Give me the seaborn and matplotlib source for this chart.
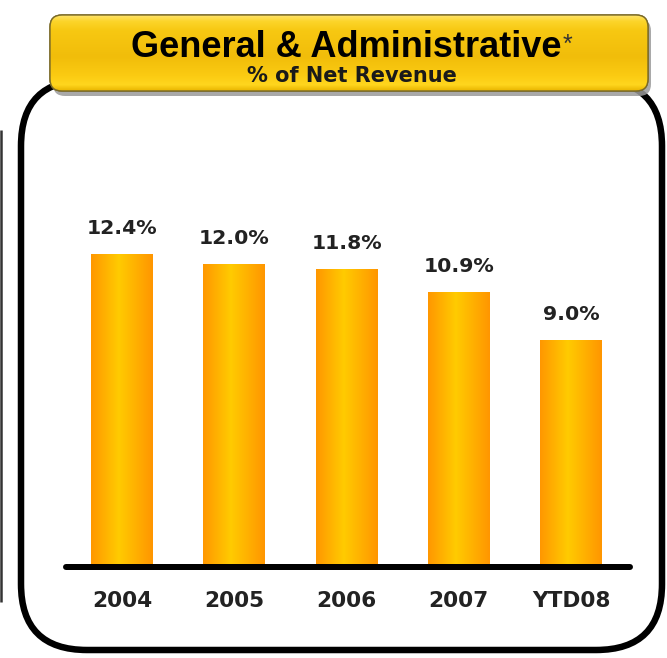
import numpy as np
import pandas as pd
import seaborn as sns
import matplotlib
matplotlib.use("Agg")
import matplotlib.pyplot as plt
from matplotlib.patches import FancyBboxPatch
from matplotlib.colors import LinearSegmentedColormap

# ---- data ----
categories = ["2004", "2005", "2006", "2007", "YTD08"]
values = [12.4, 12.0, 11.8, 10.9, 9.0]
value_labels = ["12.4%", "12.0%", "11.8%", "10.9%", "9.0%"]
title_text = "General & Administrative"
subtitle_text = "% of Net Revenue"

sns.set_theme(style="white")
plt.rcParams["font.family"] = ["DejaVu Sans"]

W, H = 667, 658
fig = plt.figure(figsize=(W / 100, H / 100), dpi=100)
fig.patch.set_facecolor("white")


def pt(p):
    return p * 72 / 100


# ---- background / decoration axes in pixel coordinates ----
bg = fig.add_axes([0, 0, 1, 1])
bg.set_xlim(0, W)
bg.set_ylim(H, 0)
bg.axis("off")

# partial border of neighbouring panel
bg.plot([1.2, 1.2], [130, 602], color="#333333", lw=pt(2.5), solid_capstyle="butt")

# main rounded panel
main_box = FancyBboxPatch((21, 80), 641, 570, boxstyle="round,pad=0,rounding_size=66",
                          fc="white", ec="black", lw=pt(6.5), zorder=1)
bg.add_patch(main_box)

# title box shadow
shadow = FancyBboxPatch((53, 19), 598, 77, boxstyle="round,pad=0,rounding_size=12",
                        fc="#9a9a9a", ec="none", alpha=0.85, zorder=2)
bg.add_patch(shadow)

# title box with vertical gradient
tbox = FancyBboxPatch((50, 15), 598, 76, boxstyle="round,pad=0,rounding_size=12",
                      fc="#F5C40A", ec="#7a6a28", lw=1.0, zorder=3)
bg.add_patch(tbox)
title_cmap = LinearSegmentedColormap.from_list(
    "tbox",
    [(0.0, "#FFE36A"), (0.08, "#FCD52A"), (0.2, "#F7C812"), (0.55, "#F1BD0A"),
     (0.8, "#FBCB12"), (0.92, "#FFD61E"), (1.0, "#E9B500")])
grad_v = np.linspace(0, 1, 200).reshape(-1, 1)
im = bg.imshow(grad_v, cmap=title_cmap, extent=(50, 648, 91, 15), origin="upper",
               aspect="auto", zorder=3.5)
im.set_clip_path(tbox)
# outline redraw on top
bg.add_patch(FancyBboxPatch((50, 15), 598, 76, boxstyle="round,pad=0,rounding_size=12",
                            fc="none", ec="#7a6a28", lw=1.0, zorder=4))

t = bg.text(346, 57, title_text, ha="center", va="baseline", fontsize=26,
            fontweight="bold", family=["Liberation Sans", "DejaVu Sans"],
            color="black", zorder=5)
bg.annotate("*", xy=(1, 1), xycoords=t, xytext=(1, -2), textcoords="offset points",
            ha="left", va="top", fontsize=18, color="#333333",
            family=["Liberation Sans", "DejaVu Sans"], zorder=5)
bg.text(352, 82, subtitle_text, ha="center", va="baseline", fontsize=15,
        fontweight="bold", color="#1a1a1a", zorder=5)

bg.set_xlim(0, W)
bg.set_ylim(H, 0)

# ---- bar chart axes ----
base_px = 567
top_px = 150
ax = fig.add_axes([63 / W, (H - base_px) / H, 570 / W, (base_px - top_px) / H])
ax.set_facecolor("none")
df = pd.DataFrame({"year": categories, "pct": values})
sns.barplot(data=df, x="year", y="pct", ax=ax, color="#FFB000", width=0.552,
            saturation=1, errorbar=None)

px_per_unit = 25.24
ax.set_xlim(-0.526, -0.526 + 570 / 112.25)
ax.set_ylim(0, (base_px - top_px) / px_per_unit)

bar_cmap = LinearSegmentedColormap.from_list(
    "bar", [(0.0, "#FF9700"), (0.45, "#FFCB00"), (1.0, "#FF9600")])
grad_h = np.linspace(0, 1, 200).reshape(1, -1)
for p in ax.patches:
    x0, y0 = p.get_x(), p.get_y()
    w, h = p.get_width(), p.get_height()
    p.set_edgecolor("none")
    bim = ax.imshow(grad_h, cmap=bar_cmap, extent=(x0, x0 + w, y0, y0 + h),
                    origin="lower", aspect="auto", zorder=2)
    bim.set_clip_path(p)

ax.set_xlim(-0.526, -0.526 + 570 / 112.25)
ax.set_ylim(0, (base_px - top_px) / px_per_unit)

ax.bar_label(ax.containers[0], labels=value_labels, padding=pt(16), fontsize=14.7,
             fontweight="bold", color="#222222")

ax.axhline(0, xmin=3 / 570, xmax=1 - 3 / 570, color="black", lw=pt(6),
           solid_capstyle="round", clip_on=False, zorder=3)

for s in ax.spines.values():
    s.set_visible(False)
ax.set_yticks([])
ax.set_xlabel("")
ax.set_ylabel("")
ax.tick_params(axis="x", length=0, pad=pt(24), labelsize=15.6, labelcolor="#222222")
for lab in ax.get_xticklabels():
    lab.set_fontweight("bold")

fig.savefig("out.png", dpi=100, facecolor="white")
